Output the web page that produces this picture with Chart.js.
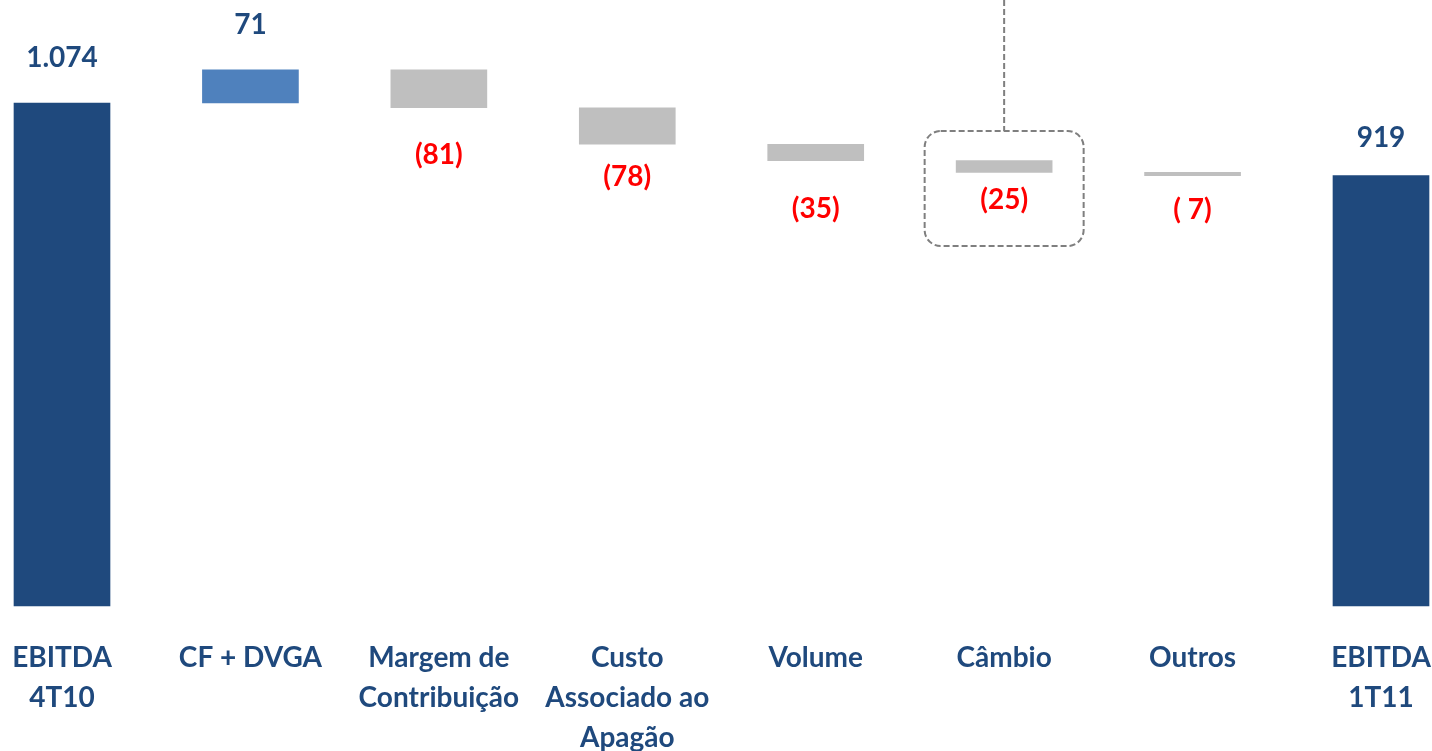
<!DOCTYPE html>
<html>
<head>
<meta charset="utf-8">
<script src="https://cdn.jsdelivr.net/npm/chart.js@4.4.1/dist/chart.umd.min.js"></script>
<style>
  html, body { margin: 0; padding: 0; background: #ffffff; }
  #wrap { width: 1432px; height: 751px; position: relative; }
</style>
</head>
<body>
<div id="wrap"><canvas id="c" width="1432" height="751"></canvas></div>
<script>
// ---- data ----
const categories = [
  ["EBITDA", "4T10"],
  "CF + DVGA",
  ["Margem de", "Contribuição"],
  ["Custo", "Associado ao", "Apagão"],
  "Volume",
  "Câmbio",
  "Outros",
  ["EBITDA", "1T11"]
];
const startValue = 1074;
const changes = [71, -81, -78, -35, -25, -7];
const endValue = 919;
const valueLabels = ["1.074", "71", "(81)", "(78)", "(35)", "(25)", "( 7)", "919"];

// ---- build floating ranges ----
const ranges = [[0, startValue]];
let run = startValue;
changes.forEach(c => { ranges.push([run, run + c]); run += c; });
ranges.push([0, endValue]);

const navy = '#1F497D';
const colors = ranges.map((r, i) => {
  if (i === 0 || i === ranges.length - 1) return navy;
  return (r[1] > r[0]) ? '#4F81BD' : '#BFBFBF';
});
const labelColors = ranges.map((r, i) => {
  if (i === 0 || i === ranges.length - 1) return navy;
  return (r[1] > r[0]) ? navy : '#FF0000';
});
// label offset (px) from the bar end (top for totals/positive, bottom for negatives)
const labelOffsets = [-45, -45, 47, 33, 48, 28, 34, -38];

const labelPlugin = {
  id: 'valueLabels',
  afterDatasetsDraw(chart) {
    const ctx = chart.ctx;
    const meta = chart.getDatasetMeta(0);
    ctx.save();
    ctx.font = 'bold 28px Lato';
    ctx.textAlign = 'center';
    ctx.textBaseline = 'middle';
    meta.data.forEach((bar, i) => {
      const top = Math.min(bar.y, bar.base);
      const bottom = Math.max(bar.y, bar.base);
      const off = labelOffsets[i];
      const y = off < 0 ? top + off : bottom + off;
      ctx.fillStyle = labelColors[i];
      ctx.fillText(valueLabels[i], bar.x, y);
    });
    ctx.restore();
  }
};

const boxPlugin = {
  id: 'highlightBox',
  afterDatasetsDraw(chart) {
    const ctx = chart.ctx;
    const meta = chart.getDatasetMeta(0);
    const bar = meta.data[5];
    const cx = bar.x;
    const w = 159, top = 131, h = 115, r = 16;
    const x = cx - w / 2;
    ctx.save();
    ctx.strokeStyle = '#7F7F7F';
    ctx.lineWidth = 2;
    ctx.setLineDash([6, 3]);
    ctx.beginPath();
    ctx.roundRect(x, top, w, h, r);
    ctx.stroke();
    ctx.beginPath();
    ctx.moveTo(cx, 0);
    ctx.lineTo(cx, top);
    ctx.stroke();
    ctx.restore();
  }
};

new Chart(document.getElementById('c'), {
  type: 'bar',
  data: {
    labels: categories,
    datasets: [{
      data: ranges,
      backgroundColor: colors,
      borderWidth: 0,
      barThickness: 96,
      clip: false
    }]
  },
  options: {
    responsive: false,
    animation: false,
    layout: { padding: { left: 62, right: 51, top: 0, bottom: 0 } },
    plugins: { legend: { display: false }, tooltip: { enabled: false } },
    scales: {
      x: {
        offset: false,
        grid: { display: false, drawTicks: false },
        border: { display: false },
        ticks: {
          color: navy,
          font: { family: 'Lato', weight: 'bold', size: 28, lineHeight: 1.43 },
          padding: 32,
          maxRotation: 0,
          autoSkip: false
        },
        afterFit(scale) {
          scale.height = 145;
          scale.paddingLeft = 0;
          scale.paddingRight = 0;
        }
      },
      y: {
        display: false,
        min: 0,
        max: 1294
      }
    }
  },
  plugins: [labelPlugin, boxPlugin]
});
</script>
</body>
</html>
